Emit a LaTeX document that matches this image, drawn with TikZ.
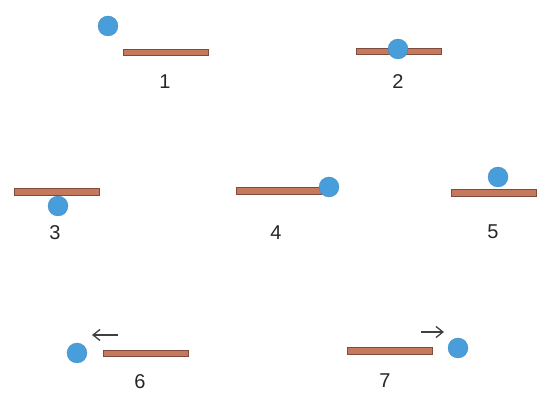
\documentclass[tikz,border=0pt]{standalone}
\usepackage{fontspec}
\setmainfont{Liberation Sans}
\usetikzlibrary{arrows.meta}
\definecolor{rodfill}{RGB}{196,120,92}
\definecolor{rodedge}{RGB}{128,74,62}
\definecolor{ballblue}{RGB}{72,158,218}

\begin{document}
\begin{tikzpicture}[
  x=1pt,y=-1pt,
  rod/.style={draw=rodedge, fill=rodfill, line width=0.8pt, minimum width=85pt, minimum height=6.5pt, inner sep=0pt},
  ball/.style={circle, fill=ballblue, draw=ballblue!85!black, line width=0.3pt, minimum size=20pt, inner sep=0pt},
  num/.style={font=\fontsize{20}{24}\selectfont, text=black!85, inner sep=0pt},
  push/.style={-{Straight Barb[length=7pt,width=11pt,line width=1.3pt]}, draw=black!75, line width=1.2pt}
]
  \useasboundingbox (0,0) rectangle (539,403);

  % top row
  \node[rod] (rod1) at (166,52.5) {};
  \node[ball] (ball1) at (108,26) {};
  \node[num] (num1) at (165,82) {1};

  \node[rod] (rod2) at (399,51.5) {};
  \node[ball] (ball2) at (398,49) {};
  \node[num] (num2) at (398,82) {2};

  % middle row
  \node[ball] (ball3) at (58,206) {};
  \node[rod] (rod3) at (57,192) {};
  \node[num] (num3) at (55,233) {3};

  \node[rod] (rod4) at (279,191) {};
  \node[ball] (ball4) at (329,187) {};
  \node[num] (num4) at (276,233) {4};

  \node[ball] (ball5) at (498,177) {};
  \node[rod] (rod5) at (494,193) {};
  \node[num] (num5) at (493,232) {5};

  % bottom row
  \node[rod] (rod6) at (146,353.5) {};
  \node[ball] (ball6) at (77,353) {};
  \node[num] (num6) at (140,382) {6};
  \coordinate (p6a) at (118,335);
  \coordinate (p6b) at (92,335);
  \draw[push] (p6a) -- (p6b);

  \node[rod] (rod7) at (389.5,351) {};
  \node[ball] (ball7) at (458,348) {};
  \node[num] (num7) at (385,381) {7};
  \coordinate (p7a) at (421,332);
  \coordinate (p7b) at (444,332);
  \draw[push] (p7a) -- (p7b);
\end{tikzpicture}
\end{document}
